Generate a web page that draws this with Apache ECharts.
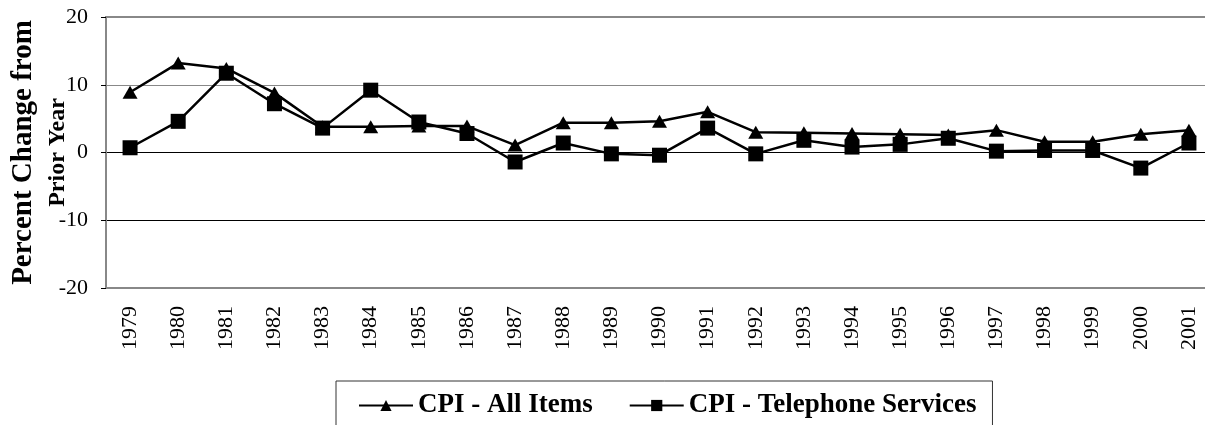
<!DOCTYPE html>
<html>
<head>
<meta charset="utf-8">
<script src="https://cdn.jsdelivr.net/npm/echarts@6/dist/echarts.min.js"></script>
<style>
    html, body { margin: 0; padding: 0; background: #fff; }
    #chart { width: 1205px; height: 425px; }
</style>
</head>
<body>
<div id="chart"></div>
<script>
const years = ["1979", "1980", "1981", "1982", "1983", "1984", "1985", "1986", "1987", "1988", "1989", "1990",
    "1991", "1992", "1993", "1994", "1995", "1996", "1997", "1998", "1999", "2000", "2001"];
const cpiAllItems = [8.9, 13.2, 12.4, 8.8, 3.8, 3.8, 3.9, 3.9, 1.1, 4.4, 4.4, 4.6,
    6.0, 3.0, 2.9, 2.8, 2.7, 2.6, 3.3, 1.6, 1.6, 2.7, 3.3];
const cpiTelephone = [0.7, 4.6, 11.7, 7.2, 3.6, 9.2, 4.5, 2.8, -1.4, 1.4, -0.2, -0.4,
    3.6, -0.2, 1.8, 0.8, 1.2, 2.1, 0.2, 0.3, 0.3, -2.3, 1.4];
const seriesNames = ["CPI - All Items", "CPI - Telephone Services"];

const serif = "'Liberation Serif', 'Times New Roman', serif";
const chart = echarts.init(document.getElementById("chart"));

chart.setOption({
    animation: false,
    backgroundColor: "#fff",
    textStyle: { fontFamily: serif, color: "#000" },
    grid: {
        left: 106, right: -8, top: 17, bottom: 137,
        outerBoundsMode: "none",
        containLabel: false,
        show: true, borderColor: "#888", borderWidth: 2
    },
    legend: {
        left: 336,
        top: 381,
        padding: [11, 16, 30, 22],
        itemGap: 36,
        itemWidth: 54,
        itemHeight: 14,
        borderColor: "#333",
        borderWidth: 1,
        textStyle: { fontFamily: serif, fontSize: 27, fontWeight: "bold", color: "#000" },
        data: seriesNames
    },
    xAxis: {
        type: "category",
        data: years,
        boundaryGap: true,
        axisLine: { onZero: false, lineStyle: { color: "#888", width: 2 } },
        axisTick: { show: false },
        axisLabel: { rotate: 90, margin: 18, fontSize: 22, fontFamily: serif, color: "#000", interval: 0 }
    },
    yAxis: {
        type: "value",
        min: -20,
        max: 20,
        interval: 10,
        name: "{a|Percent Change from}\n{b|Prior Year}",
        nameLocation: "middle",
        nameRotate: 90,
        nameGap: 31,
        nameMoveOverlap: false,
        nameTextStyle: {
            fontFamily: serif, fontWeight: "bold", color: "#000", lineHeight: 34,
            rich: {
                a: { fontFamily: serif, fontSize: 29, fontWeight: "bold", lineHeight: 34 },
                b: { fontFamily: serif, fontSize: 24, fontWeight: "bold", lineHeight: 34 }
            }
        },
        axisLine: { show: true, lineStyle: { color: "#888", width: 2 } },
        axisTick: { show: true, length: 5, lineStyle: { color: "#000" } },
        axisLabel: { margin: 18, fontSize: 22, fontFamily: serif, color: "#000" },
        splitLine: { lineStyle: { color: ["#888", "#000", "#000", "#888", "#888"], width: 1 } }
    },
    series: [
        {
            name: seriesNames[0],
            type: "line",
            data: cpiAllItems,
            symbol: "triangle",
            symbolSize: [15, 13],
            lineStyle: { color: "#000", width: 2.5 },
            itemStyle: { color: "#000" }
        },
        {
            name: seriesNames[1],
            type: "line",
            data: cpiTelephone,
            symbol: "rect",
            symbolSize: 15,
            lineStyle: { color: "#000", width: 2.5 },
            itemStyle: { color: "#000" }
        }
    ]
});
</script>
</body>
</html>
